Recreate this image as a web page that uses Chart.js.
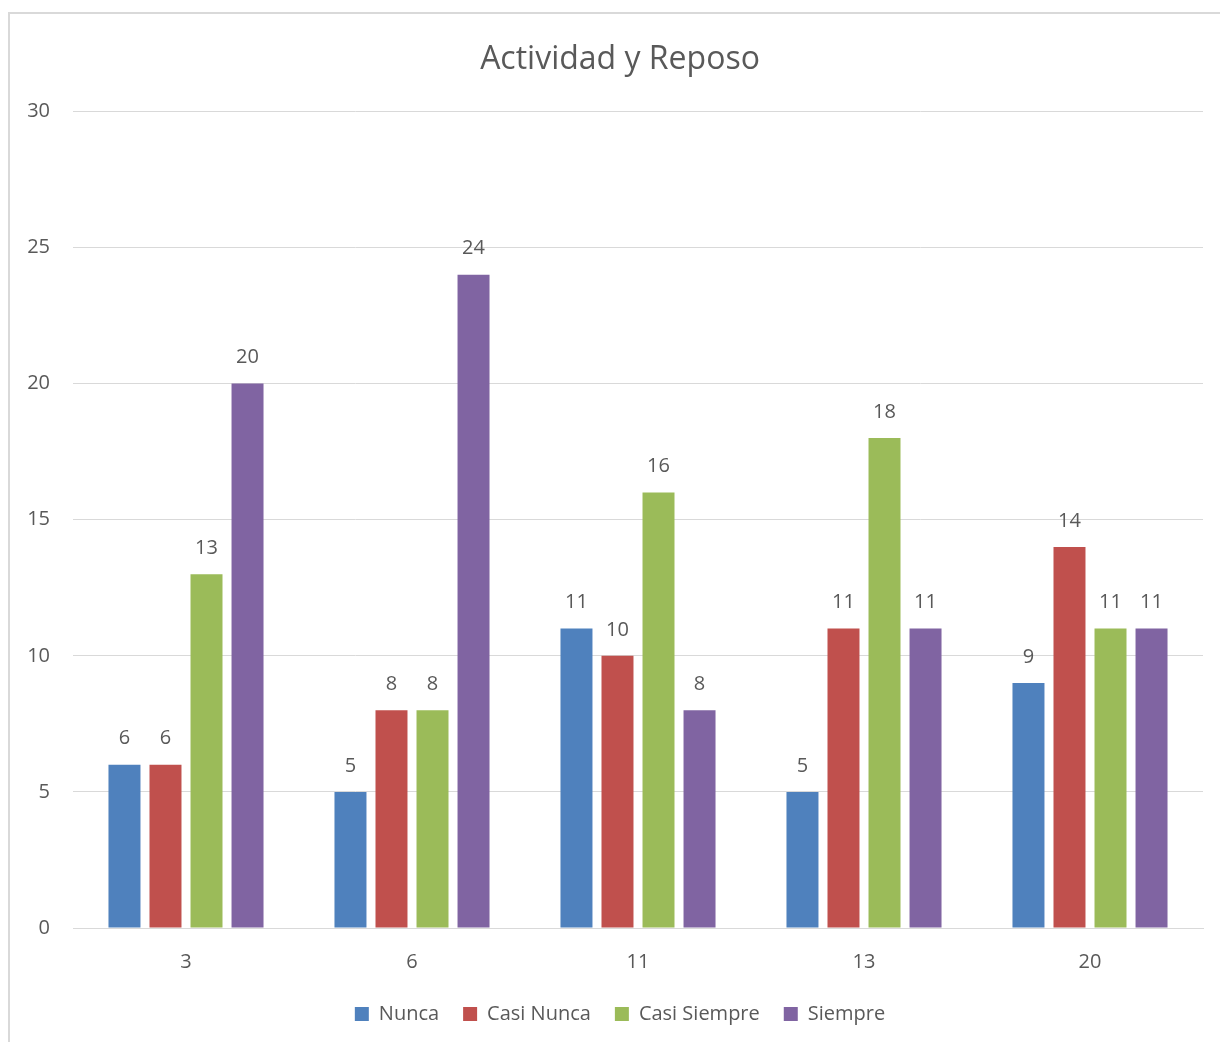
<!DOCTYPE html>
<html>
<head>
<meta charset="utf-8">
<script src="https://cdn.jsdelivr.net/npm/chart.js@4"></script>
<style>
  html, body { margin: 0; padding: 0; background: #ffffff; overflow: hidden; }
  #wrap { position: relative; width: 1220px; height: 1042px; overflow: hidden; }
</style>
</head>
<body>
<div id="wrap"><canvas id="c" width="1240" height="1042"></canvas></div>
<script>
const categories = ['3', '6', '11', '13', '20'];
const nunca = [6, 5, 11, 5, 9];
const casiNunca = [6, 8, 10, 11, 14];
const casiSiempre = [13, 8, 16, 18, 11];
const siempre = [20, 24, 8, 11, 11];
const seriesNames = ['Nunca', 'Casi Nunca', 'Casi Siempre', 'Siempre'];
const seriesColors = ['#4F81BD', '#C0504D', '#9BBB59', '#8064A2'];
const yTicks = [0, 5, 10, 15, 20, 25, 30];

const FONT = '"Open Sans", "Noto Sans", sans-serif';
const TEXT = '#595959';

const borderPlugin = {
  id: 'frame',
  beforeDraw(chart) {
    const ctx = chart.ctx;
    ctx.save();
    ctx.fillStyle = '#ffffff';
    ctx.fillRect(0, 0, chart.width, chart.height);
    ctx.strokeStyle = '#D9D9D9';
    ctx.lineWidth = 2;
    ctx.beginPath();
    ctx.moveTo(9, chart.height + 2);
    ctx.lineTo(9, 13);
    ctx.lineTo(chart.width + 2, 13);
    ctx.stroke();
    ctx.restore();
  }
};

const valueLabels = {
  id: 'valueLabels',
  afterDatasetsDraw(chart) {
    const ctx = chart.ctx;
    ctx.save();
    ctx.font = '20px ' + FONT;
    ctx.fillStyle = TEXT;
    ctx.textAlign = 'center';
    ctx.textBaseline = 'middle';
    chart.data.datasets.forEach((ds, i) => {
      const meta = chart.getDatasetMeta(i);
      meta.data.forEach((bar, j) => {
        ctx.fillText(String(ds.data[j]), bar.x, bar.y - 26);
      });
    });
    ctx.restore();
  }
};

const data = {
  labels: categories,
  datasets: [nunca, casiNunca, casiSiempre, siempre].map((vals, i) => ({
    label: seriesNames[i],
    data: vals,
    backgroundColor: seriesColors[i],
    borderWidth: 0,
    categoryPercentage: 0.726,
    barPercentage: 0.78
  }))
};

new Chart(document.getElementById('c'), {
  type: 'bar',
  data,
  plugins: [borderPlugin, valueLabels],
  options: {
    responsive: false,
    animation: false,
    layout: { padding: { left: 0, right: 0, top: 0, bottom: 8 } },
    plugins: {
      title: {
        display: true,
        text: 'Actividad y Reposo',
        color: TEXT,
        font: { family: FONT, size: 32, weight: 'normal' },
        padding: { top: 41, bottom: 32 }
      },
      legend: {
        position: 'bottom',
        labels: {
          color: TEXT,
          font: { family: FONT, size: 20 },
          boxWidth: 14,
          boxHeight: 14,
          padding: 24
        }
      },
      tooltip: { enabled: false }
    },
    scales: {
      x: {
        grid: { display: false },
        border: { display: true, color: '#D9D9D9', width: 1 },
        ticks: { color: TEXT, font: { family: FONT, size: 20 }, padding: 14 },
        afterFit(scale) { scale.height = 52; }
      },
      y: {
        min: 0,
        max: 30,
        afterBuildTicks(scale) { scale.ticks = yTicks.map(v => ({ value: v })); },
        grid: { color: '#D9D9D9', lineWidth: 1, drawTicks: false },
        border: { display: false },
        ticks: { color: TEXT, font: { family: FONT, size: 20 }, padding: 23 },
        afterFit(scale) { scale.width = 73; }
      },
      yRight: {
        position: 'right',
        display: true,
        min: 0,
        max: 30,
        grid: { display: false, drawTicks: false },
        border: { display: false },
        ticks: { display: false },
        afterFit(scale) { scale.width = 37; }
      }
    }
  }
});
</script>
</body>
</html>
